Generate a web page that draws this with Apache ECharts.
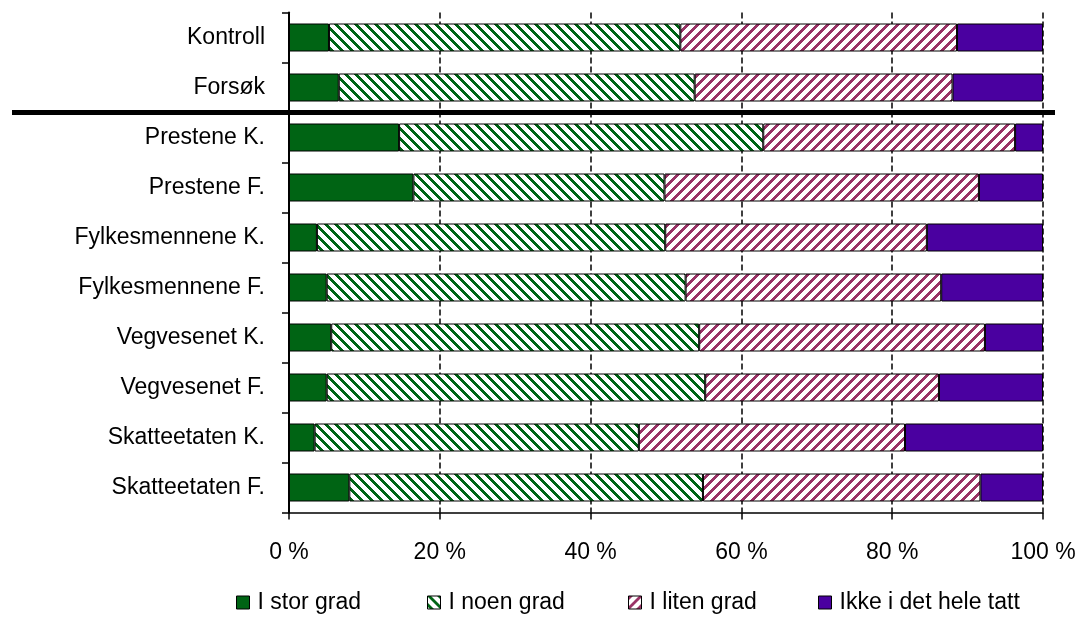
<!DOCTYPE html>
<html>
<head>
<meta charset="utf-8">
<script src="https://cdn.jsdelivr.net/npm/echarts@6/dist/echarts.min.js"></script>
<style>
html,body{margin:0;padding:0;background:#fff;}
#c{width:1083px;height:617px;}
</style>
</head>
<body>
<div id="c"></div>
<script>
const categories = ['Kontroll','Forsøk','Prestene K.','Prestene F.','Fylkesmennene K.','Fylkesmennene F.','Vegvesenet K.','Vegvesenet F.','Skatteetaten K.','Skatteetaten F.'];
const seriesNames = ['I stor grad','I noen grad','I liten grad','Ikke i det hele tatt'];
const storGrad  = [5.3, 6.6, 14.6, 16.5, 3.7, 5.0, 5.6, 5.0, 3.4, 8.0];
const noenGrad  = [46.6, 47.2, 48.3, 33.3, 46.2, 47.6, 48.8, 50.2, 43.0, 46.9];
const litenGrad = [36.7, 34.2, 33.4, 41.7, 34.7, 33.9, 37.9, 31.0, 35.3, 36.8];
const ikkeGrad  = [11.4, 12.0, 3.7, 8.5, 15.4, 13.5, 7.7, 13.8, 18.3, 8.3];
const xTicks = [0, 20, 40, 60, 80, 100];

function stripes(color, dir) {
  const p = 10, w = 4;
  const cv = document.createElement('canvas');
  cv.width = p; cv.height = p;
  const ctx = cv.getContext('2d');
  const img = ctx.createImageData(p, p);
  const r = parseInt(color.slice(1,3),16), g = parseInt(color.slice(3,5),16), b = parseInt(color.slice(5,7),16);
  for (let y = 0; y < p; y++) {
    for (let x = 0; x < p; x++) {
      const k = dir === 'back' ? ((x - y) % p + p) % p : (x + y) % p;
      const on = k < w;
      const i = (y * p + x) * 4;
      img.data[i] = on ? r : 255;
      img.data[i+1] = on ? g : 255;
      img.data[i+2] = on ? b : 255;
      img.data[i+3] = 255;
    }
  }
  ctx.putImageData(img, 0, 0);
  return { image: cv, repeat: 'repeat' };
}

const green = '#006414';
const pink = '#993366';
const purple = '#4a00a0';
const colors = [green, stripes(green, 'back'), stripes(pink, 'fwd'), purple];
const values = [storGrad, noenGrad, litenGrad, ikkeGrad];

const chart = echarts.init(document.getElementById('c'), null, {renderer: 'canvas'});
const font = 'Liberation Sans, Arial, sans-serif';
const fs = 23;
const legendLefts = [231, 422, 623, 813];

const option = {
  animation: false,
  textStyle: { fontFamily: font },
  grid: { left: 289, right: 40, top: 12.5, bottom: 104.5, containLabel: false },
  xAxis: {
    type: 'value', min: 0, max: 100, interval: 20,
    axisLine: { show: true, lineStyle: { color: '#000', width: 1.5 } },
    axisTick: { show: true, length: 7, lineStyle: { color: '#000', width: 1.5 } },
    axisLabel: { color: '#000', fontSize: fs, margin: 29, fontFamily: font,
      formatter: v => xTicks.includes(v) ? v + ' %' : '' },
    splitLine: { show: true, lineStyle: { color: '#000', type: [6, 3], width: 1.5 } }
  },
  yAxis: {
    type: 'category', data: categories, inverse: true,
    axisLine: { show: true, lineStyle: { color: '#000', width: 2 } },
    axisTick: { show: true, length: 7, lineStyle: { color: '#000', width: 1.5 } },
    axisLabel: { color: '#000', fontSize: fs, margin: 24, fontFamily: font }
  },
  legend: seriesNames.map((n, i) => ({
    data: [n], left: legendLefts[i], top: 586,
    itemWidth: 13, itemHeight: 13, itemGap: 0,
    icon: 'rect',
    textStyle: { color: '#000', fontSize: fs, fontFamily: font, padding: [0,0,0,3] },
    itemStyle: { borderColor: '#000', borderWidth: 1 }
  })),
  series: seriesNames.map((n, i) => ({
    name: n, type: 'bar', stack: 'total', data: values[i],
    barWidth: 28,
    itemStyle: { color: colors[i], borderColor: '#000', borderWidth: 1 },
    emphasis: { disabled: true }
  }))
};
chart.setOption(option);

const y1 = chart.convertToPixel({ yAxisIndex: 0 }, categories[1]);
const y2 = chart.convertToPixel({ yAxisIndex: 0 }, categories[2]);
const ySep = (y1 + y2) / 2;
chart.setOption({
  graphic: [{
    type: 'line', z: 100,
    shape: { x1: 12, y1: ySep, x2: 1055, y2: ySep },
    style: { stroke: '#000', lineWidth: 5 }
  }]
});
</script>
</body>
</html>
